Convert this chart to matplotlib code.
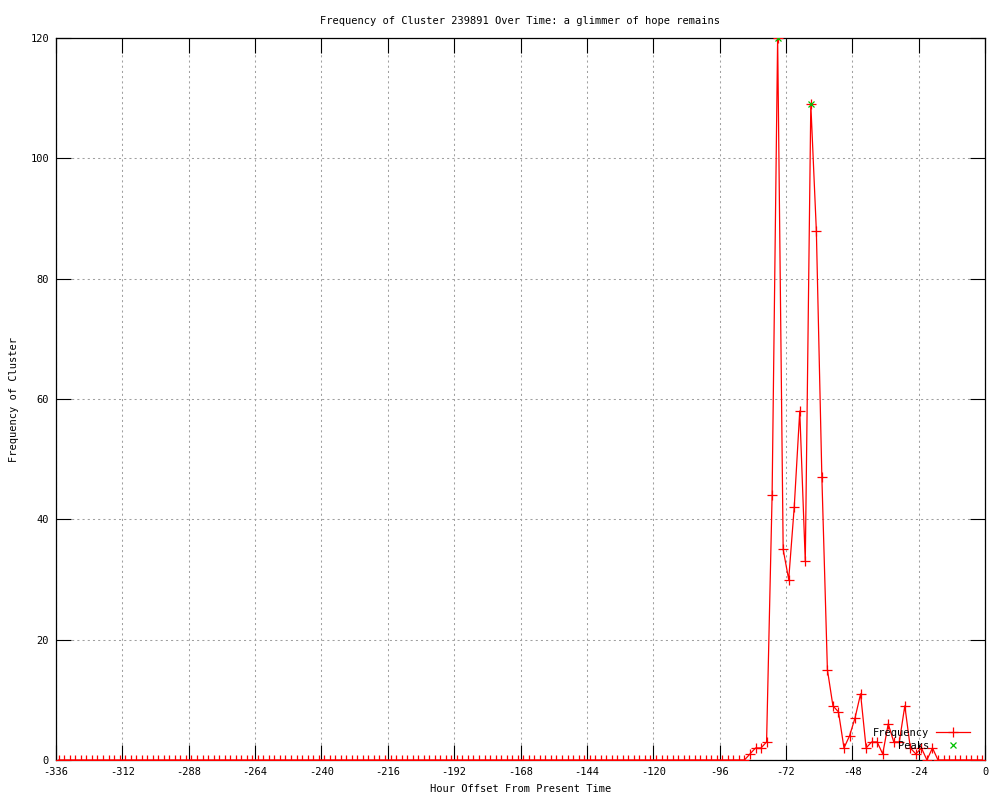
import numpy as np
import matplotlib
matplotlib.use("Agg")
import matplotlib.pyplot as plt

plt.rcParams['font.family'] = ['DejaVu Sans Mono']
plt.rcParams['axes.unicode_minus'] = False

# sampling grid: every 2 hours over the last two weeks
hours = np.arange(-335, 0, 2)
frequency = [
    0, 0, 0, 0, 0, 0, 0, 0, 0, 0, 0, 0, 0, 0, 0, 0, 0, 0, 0, 0,
    0, 0, 0, 0, 0, 0, 0, 0, 0, 0, 0, 0, 0, 0, 0, 0, 0, 0, 0, 0,
    0, 0, 0, 0, 0, 0, 0, 0, 0, 0, 0, 0, 0, 0, 0, 0, 0, 0, 0, 0,
    0, 0, 0, 0, 0, 0, 0, 0, 0, 0, 0, 0, 0, 0, 0, 0, 0, 0, 0, 0,
    0, 0, 0, 0, 0, 0, 0, 0, 0, 0, 0, 0, 0, 0, 0, 0, 0, 0, 0, 0,
    0, 0, 0, 0, 0, 0, 0, 0, 0, 0, 0, 0, 0, 0, 0, 0, 0, 0, 0, 0,
    0, 0, 0, 0, 0,
    1, 2, 2, 3, 44, 120, 35, 30, 42, 58, 33, 109, 88, 47, 15, 9, 8, 2, 4, 7,
    11, 2, 3, 3, 1, 6, 3, 3, 9, 2, 1, 2, 0, 2, 0, 0, 0, 0, 0, 0,
    0, 0, 0,
]
peak_hours = [-75, -63]
peak_freq = [120, 109]

x_ticks = np.arange(-336, 1, 24)
y_ticks = np.arange(0, 121, 20)

fig = plt.figure(figsize=(10, 8), dpi=100)
ax = fig.add_axes([0.056, 0.05, 0.929, 0.9025])

ax.plot(hours, frequency, color='red', linewidth=0.9, marker='+',
        markersize=6.5, markeredgewidth=0.9, label='Frequency', zorder=3)
ax.plot(peak_hours, peak_freq, linestyle='none', marker='x', color='#00c000',
        markersize=5, markeredgewidth=0.9, label='Peaks', zorder=4)

ax.set_xlim(-336, 0)
ax.set_ylim(0, 120)
ax.set_xticks(x_ticks)
ax.set_yticks(y_ticks)

ax.grid(True, color='#a0a0a0', linestyle=(0, (2, 3)), linewidth=0.75)
ax.tick_params(direction='in', length=11, width=0.8, top=True, right=True,
               labelsize=7.5, pad=5)
for sp in ax.spines.values():
    sp.set_linewidth(0.9)

ax.set_title('Frequency of Cluster 239891 Over Time: a glimmer of hope remains',
             fontsize=7.5, pad=10)
ax.set_xlabel('Hour Offset From Present Time', fontsize=7.5, labelpad=5)
ax.set_ylabel('Frequency of Cluster', fontsize=7.5, labelpad=8)

ax.legend(loc='lower right', bbox_to_anchor=(0.994, 0.0), frameon=False,
          markerfirst=False, fontsize=7.5, handlelength=3.3,
          labelspacing=0.25, handletextpad=0.6, numpoints=1)

fig.savefig('out.png', dpi=100)
